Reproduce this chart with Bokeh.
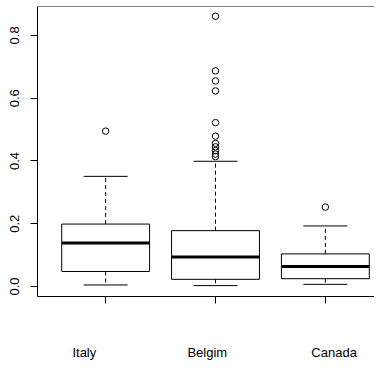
from bokeh.plotting import figure
from bokeh.models import (FixedTicker, LinearAxis, Span, Range1d, NumeralTickFormatter,
                          CustomLabelingPolicy)
from bokeh.embed import file_html
from bokeh.resources import INLINE

# ---- data ----
categories = ["Italy", "Belgim", "Canada"]
positions = [1, 2, 3]
label_positions = [0.806, 1.925, 3.08]
lower_whisker = [0.005, 0.003, 0.007]
q1 = [0.048, 0.023, 0.025]
median = [0.139, 0.094, 0.064]
q3 = [0.199, 0.178, 0.104]
upper_whisker = [0.351, 0.399, 0.193]
outliers_italy = [0.495]
outliers_belgim = [0.861, 0.687, 0.655, 0.623, 0.522, 0.479, 0.456, 0.445, 0.433, 0.422, 0.414]
outliers_canada = [0.253]
y_ticks = [0.0, 0.2, 0.4, 0.6, 0.8]

box_width = 0.8
cap_width = 0.4
FONT = "Liberation Sans"

p = figure(width=374, height=362, output_backend="svg", toolbar_location=None,
           x_range=Range1d(0.3796, 3.4474), y_range=Range1d(-0.0317, 0.892),
           min_border_left=37, min_border_right=0, min_border_top=6, min_border_bottom=65,
           x_axis_location=None, y_axis_location=None)
p.grid.visible = False
p.outline_line_color = None
p.background_fill_color = "white"
p.border_fill_color = "white"

# whiskers (dashed)
p.segment(x0=positions, y0=q3, x1=positions, y1=upper_whisker,
          line_color="black", line_width=1, line_dash="4 3")
p.segment(x0=positions, y0=q1, x1=positions, y1=lower_whisker,
          line_color="black", line_width=1, line_dash="4 3")
# caps
p.segment(x0=[x - cap_width / 2 for x in positions], y0=upper_whisker,
          x1=[x + cap_width / 2 for x in positions], y1=upper_whisker,
          line_color="black", line_width=1)
p.segment(x0=[x - cap_width / 2 for x in positions], y0=lower_whisker,
          x1=[x + cap_width / 2 for x in positions], y1=lower_whisker,
          line_color="black", line_width=1)
# boxes
p.vbar(x=positions, bottom=q1, top=q3, width=box_width,
       fill_color="white", line_color="black", line_width=1)
# medians
p.segment(x0=[x - box_width / 2 for x in positions], y0=median,
          x1=[x + box_width / 2 for x in positions], y1=median,
          line_color="black", line_width=3)
# outliers
ox = [1] * len(outliers_italy) + [2] * len(outliers_belgim) + [3] * len(outliers_canada)
oy = outliers_italy + outliers_belgim + outliers_canada
p.scatter(x=ox, y=oy, marker="circle", size=6.5, fill_color=None,
          line_color="black", line_width=1)

# left axis
yaxis = LinearAxis(ticker=FixedTicker(ticks=y_ticks),
                   formatter=NumeralTickFormatter(format="0.0"))
yaxis.major_tick_out = 7
yaxis.major_tick_in = 0
yaxis.minor_tick_out = 0
yaxis.minor_tick_in = 0
yaxis.major_label_orientation = "vertical"
yaxis.major_label_standoff = 11
yaxis.major_label_text_font = FONT
yaxis.major_label_text_font_size = "13px"
yaxis.major_label_text_color = "black"
yaxis.axis_line_color = "black"
yaxis.major_tick_line_color = "black"
p.add_layout(yaxis, "left")

# bottom axis: tick marks only (labels filtered out)
xaxis = LinearAxis(ticker=FixedTicker(ticks=positions),
                   major_label_policy=CustomLabelingPolicy(
                       code="for (const i of indices) indices.unset(i)"))
xaxis.major_tick_out = 7
xaxis.major_tick_in = 0
xaxis.minor_tick_out = 0
xaxis.minor_tick_in = 0
xaxis.major_label_text_font_size = "1px"
xaxis.major_label_standoff = 0
xaxis.axis_line_color = "black"
xaxis.major_tick_line_color = "black"
p.add_layout(xaxis, "below")

# bottom axis with category labels
overrides = {lp: c for lp, c in zip(label_positions, categories)}
xaxis2 = LinearAxis(ticker=FixedTicker(ticks=label_positions),
                    major_label_overrides=overrides)
xaxis2.major_tick_out = 0
xaxis2.major_tick_in = 0
xaxis2.minor_tick_out = 0
xaxis2.minor_tick_in = 0
xaxis2.axis_line_color = None
xaxis2.major_tick_line_color = None
xaxis2.major_label_standoff = 37
xaxis2.major_label_text_font = FONT
xaxis2.major_label_text_font_size = "13px"
xaxis2.major_label_text_color = "black"
p.add_layout(xaxis2, "below")

# top frame line
p.add_layout(Span(location=p.y_range.end, dimension="width",
                  line_color="black", line_width=1))

open("out.html", "w").write(file_html(p, INLINE))
